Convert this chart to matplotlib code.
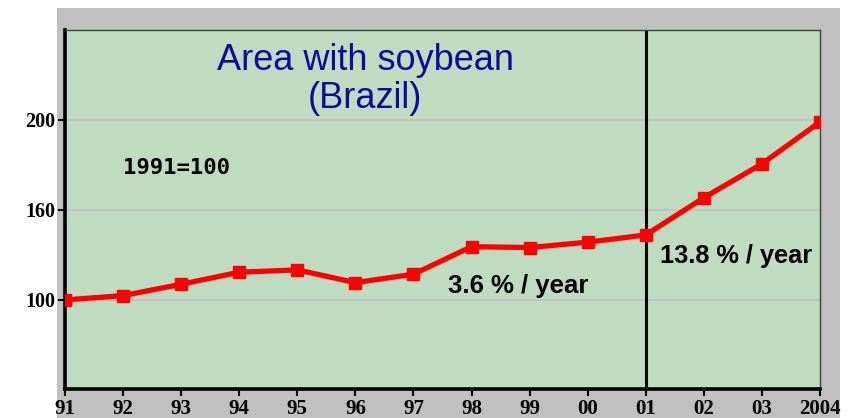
import numpy as np
import matplotlib.pyplot as plt
from matplotlib.patches import Rectangle

# soybean area index, 1991 = 100
years = ["91", "92", "93", "94", "95", "96", "97", "98", "99", "00", "01", "02", "03", "2004"]
area_index = [100, 102.4, 108.7, 115.4, 116.7, 109.6, 114.3, 129.6, 129.1, 132.1, 136.1, 156.8, 175.6, 198.9]
ytick_pos = [100, 150, 200]
ytick_labels = ["100", "160", "200"]

W, H = 852, 418
fig = plt.figure(figsize=(W / 100, H / 100), dpi=100)
fig.patch.set_facecolor("white")

# grey frame behind the plot area
fig.patches.append(Rectangle((57 / W, 0), (840 - 57) / W, (418 - 8) / H,
                             transform=fig.transFigure, facecolor="#c0c0c0",
                             edgecolor="none", zorder=-10))

ax = fig.add_axes([65 / W, 1 - 389 / H, (820 - 65) / W, (389 - 30) / H])
ax.set_facecolor("#c0dcc0")

x = np.arange(len(years))
ax.set_xlim(0, len(years) - 1)
ax.set_ylim(50.5, 250)

# grid lines
for yv in ytick_pos:
    ax.axhline(yv, color="#c8bcc4", lw=1.2, zorder=1)

# break between the two growth periods
ax.axvline(10, color="black", lw=2.2, zorder=2)

ax.plot(x, area_index, color="#ff0000", lw=3.8, marker="s", markersize=8,
        solid_joinstyle="miter", zorder=3)

# spines
ax.spines["left"].set_linewidth(2.6)
ax.spines["bottom"].set_linewidth(2.6)
ax.spines["right"].set_linewidth(1.0)
ax.spines["right"].set_color("#404040")
ax.spines["top"].set_linewidth(1.0)
ax.spines["top"].set_color("#404040")

ax.set_xticks(x)
ax.set_xticklabels(years, family="Liberation Serif", weight="bold", size=15)
ax.set_yticks(ytick_pos)
ax.set_yticklabels(ytick_labels, family="Liberation Serif", weight="bold", size=14.5)
ax.tick_params(axis="both", direction="out", length=5, width=1.5, pad=2)

# texts
ax.text(5.17, 243, "Area with soybean\n(Brazil)", ha="center", va="top",
        color="#0c0c9c", fontsize=26, family="Liberation Sans",
        linespacing=1.12)
ax.text(1.0, 173.3, "1991=100", ha="left", va="center", fontsize=16,
        family="DejaVu Sans Mono", weight="bold")
ax.text(6.6, 107.8, "3.6 % / year", ha="left", va="center", fontsize=18.5,
        family="Liberation Sans", weight="bold")
ax.text(10.25, 124.4, "13.8 % / year", ha="left", va="center", fontsize=18.3,
        family="Liberation Sans", weight="bold")

fig.savefig("out.png", dpi=100, facecolor=fig.get_facecolor())
